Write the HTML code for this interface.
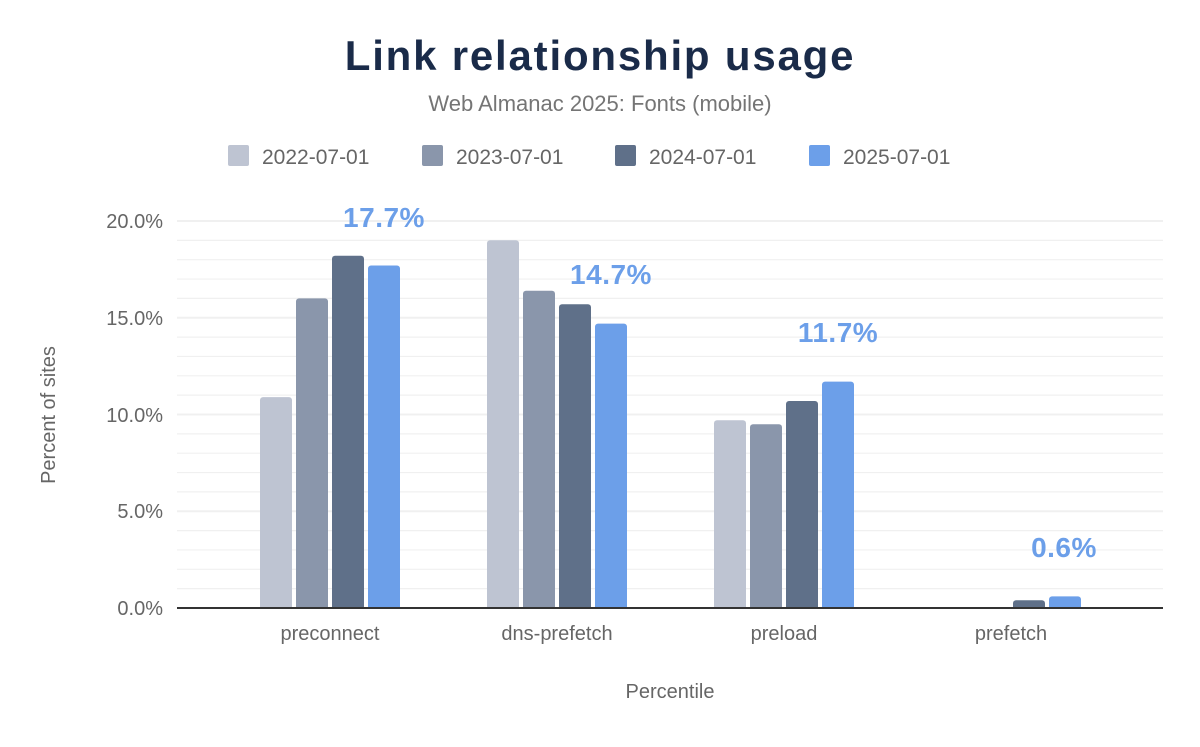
<!DOCTYPE html>
<html><head><style>body{margin:0;background:#fff}svg text{font-family:"Liberation Sans",sans-serif}</style></head>
<body>
<svg width="1200" height="742" viewBox="0 0 1200 742" xmlns="http://www.w3.org/2000/svg">
<rect width="1200" height="742" fill="#fff"/>
<text x="600" y="70" text-anchor="middle" font-size="42" font-weight="bold" letter-spacing="1.8" fill="#1a2b49">Link relationship usage</text>
<text x="600" y="111" text-anchor="middle" font-size="22" fill="#757575">Web Almanac 2025: Fonts (mobile)</text>
<g font-size="21" fill="#666">
<rect x="228" y="145" width="21" height="21" rx="2" fill="#bec4d2"/><text x="262" y="164">2022-07-01</text>
<rect x="422" y="145" width="21" height="21" rx="2" fill="#8a96ab"/><text x="456" y="164">2023-07-01</text>
<rect x="615" y="145" width="21" height="21" rx="2" fill="#5f7089"/><text x="649" y="164">2024-07-01</text>
<rect x="809" y="145" width="21" height="21" rx="2" fill="#6c9fe9"/><text x="843" y="164">2025-07-01</text>
</g>
<g stroke="#f0f0f0" stroke-width="1.2">
<line x1="177" x2="1163" y1="588.65" y2="588.65"/><line x1="177" x2="1163" y1="569.3" y2="569.3"/><line x1="177" x2="1163" y1="549.95" y2="549.95"/><line x1="177" x2="1163" y1="530.6" y2="530.6"/><line x1="177" x2="1163" y1="511.25" y2="511.25" stroke-width="2"/>
<line x1="177" x2="1163" y1="491.9" y2="491.9"/><line x1="177" x2="1163" y1="472.55" y2="472.55"/><line x1="177" x2="1163" y1="453.2" y2="453.2"/><line x1="177" x2="1163" y1="433.85" y2="433.85"/><line x1="177" x2="1163" y1="414.5" y2="414.5" stroke-width="2"/>
<line x1="177" x2="1163" y1="395.15" y2="395.15"/><line x1="177" x2="1163" y1="375.8" y2="375.8"/><line x1="177" x2="1163" y1="356.45" y2="356.45"/><line x1="177" x2="1163" y1="337.1" y2="337.1"/><line x1="177" x2="1163" y1="317.75" y2="317.75" stroke-width="2"/>
<line x1="177" x2="1163" y1="298.4" y2="298.4"/><line x1="177" x2="1163" y1="279.05" y2="279.05"/><line x1="177" x2="1163" y1="259.7" y2="259.7"/><line x1="177" x2="1163" y1="240.35" y2="240.35"/><line x1="177" x2="1163" y1="221" y2="221" stroke-width="2"/>
</g>
<g font-size="20" fill="#666" text-anchor="end">
<text x="163" y="228">20.0%</text><text x="163" y="325">15.0%</text><text x="163" y="422">10.0%</text><text x="163" y="518">5.0%</text><text x="163" y="615">0.0%</text>
</g>
<text transform="translate(55,415) rotate(-90)" text-anchor="middle" font-size="20" fill="#666">Percent of sites</text>
<g>
<rect x="260" y="397.1" width="32" height="215" rx="3" fill="#bec4d2"/>
<rect x="296" y="298.4" width="32" height="314" rx="3" fill="#8a96ab"/>
<rect x="332" y="255.8" width="32" height="356" rx="3" fill="#5f7089"/>
<rect x="368" y="265.5" width="32" height="346" rx="3" fill="#6c9fe9"/>
<rect x="487" y="240.3" width="32" height="372" rx="3" fill="#bec4d2"/>
<rect x="523" y="290.7" width="32" height="322" rx="3" fill="#8a96ab"/>
<rect x="559" y="304.2" width="32" height="308" rx="3" fill="#5f7089"/>
<rect x="595" y="323.6" width="32" height="288" rx="3" fill="#6c9fe9"/>
<rect x="714" y="420.3" width="32" height="192" rx="3" fill="#bec4d2"/>
<rect x="750" y="424.2" width="32" height="188" rx="3" fill="#8a96ab"/>
<rect x="786" y="401" width="32" height="211" rx="3" fill="#5f7089"/>
<rect x="822" y="381.6" width="32" height="230" rx="3" fill="#6c9fe9"/>
<rect x="1013" y="600.3" width="32" height="12" rx="3" fill="#5f7089"/>
<rect x="1049" y="596.4" width="32" height="16" rx="3" fill="#6c9fe9"/>
</g>
<rect x="177" y="609" width="986" height="6" fill="#fff"/>
<line x1="177" y1="608" x2="1163" y2="608" stroke="#333" stroke-width="2"/>
<g font-size="20" fill="#666" text-anchor="middle">
<text x="330" y="640">preconnect</text><text x="557" y="640">dns-prefetch</text><text x="784" y="640">preload</text><text x="1011" y="640">prefetch</text>
</g>
<text x="670" y="698" text-anchor="middle" font-size="20" fill="#666">Percentile</text>
<g font-size="28" font-weight="bold" fill="#6c9fe9" text-anchor="middle" letter-spacing="0.5">
<text x="384" y="227">17.7%</text><text x="611" y="284">14.7%</text><text x="838" y="342">11.7%</text><text x="1064" y="557">0.6%</text>
</g>
</svg>
</body></html>
